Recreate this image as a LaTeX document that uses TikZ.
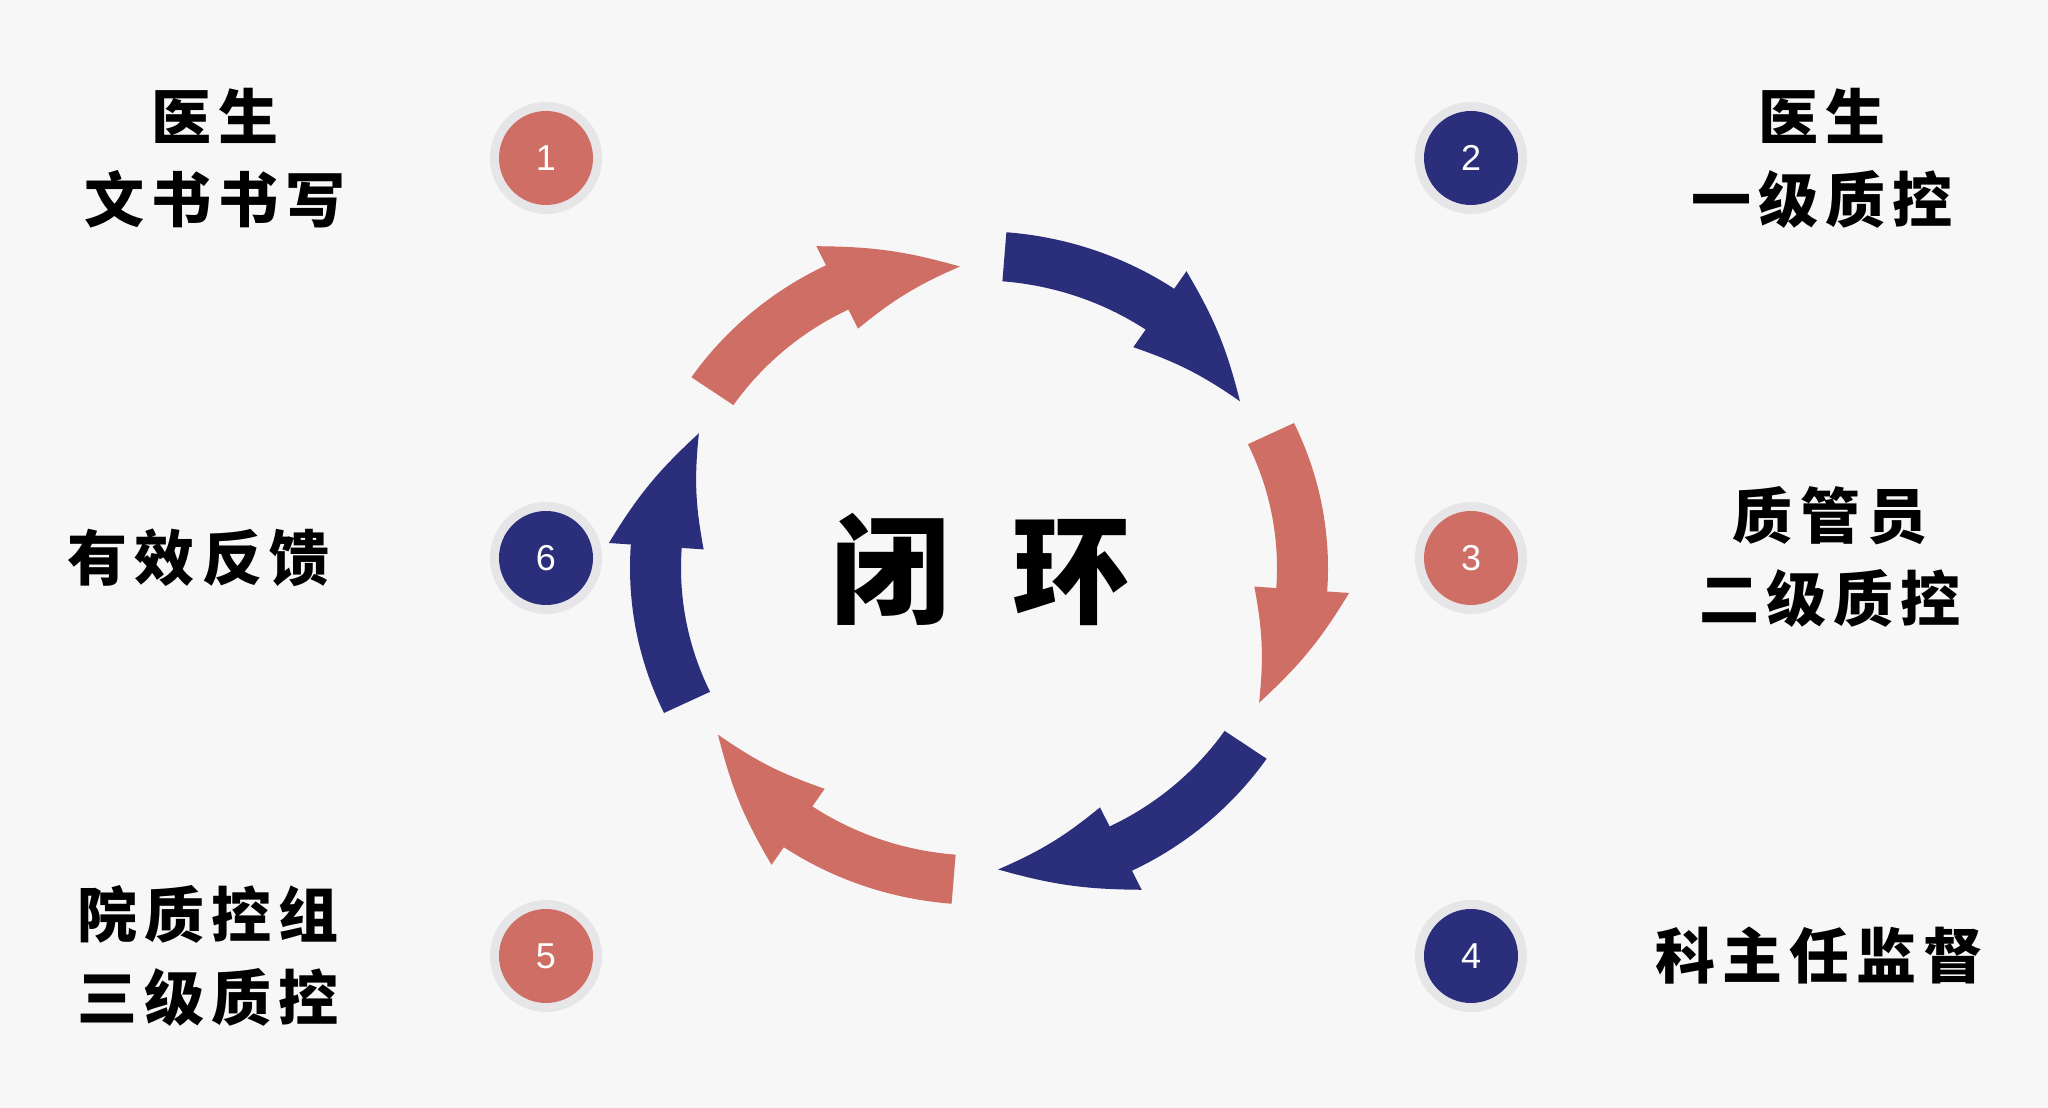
\documentclass[tikz,border=0pt]{standalone}
\usepackage{fontspec}
\setmainfont{Liberation Sans}
\newfontfamily\cjklabel{Noto Sans CJK SC}[LetterSpace=12]
\newfontfamily\cjktitle{Noto Sans CJK SC}
\usepackage{xcolor}
\usepackage{tikz}
\definecolor{PageGray}{HTML}{F7F7F7}
\definecolor{HaloGray}{HTML}{E6E6E9}
\definecolor{LoopRed}{HTML}{CF6E65}
\definecolor{LoopBlue}{HTML}{2B2E7B}
\tikzset{
  badge/.style={
    circle,
    inner sep=0pt,
    minimum size=94pt,
    fill=#1,
    text=white,
    font=\fontsize{36}{36}\selectfont,
    preaction={draw=HaloGray, line width=18pt}
  },
  steplabel/.style={
    align=center,
    inner sep=0pt,
    font=\cjklabel\bfseries\fontsize{60}{83}\selectfont
  },
  looptitle/.style={
    inner sep=0pt,
    font=\cjktitle\bfseries\fontsize{118}{118}\selectfont
  }
}

\begin{document}
\begin{tikzpicture}[x=1pt, y=1pt]

  \fill[PageGray] (0,0) rectangle (2048,1108);

  \coordinate (ring) at (979,540);

  % six curved arrows, clockwise
  \begin{scope}[shift={(ring)}, yscale=0.965]
    \foreach \tail/\col in {145.5/LoopRed, 85.5/LoopBlue, 25.5/LoopRed,
                            -34.5/LoopBlue, -94.5/LoopRed, -154.5/LoopBlue} {
      \pgfmathsetmacro\barb{\tail-29.5}
      \pgfmathsetmacro\tip{\tail-52}
      \fill[\col]
      (\tail:349) arc[start angle=\tail, end angle=\barb, radius=349pt]
      -- (\barb:371) to[bend left=8] (\tip:313)
      to[bend right=8] (\barb:276)
      -- (\barb:298) arc[start angle=\barb, end angle=\tail, radius=298pt]
      -- cycle;
    }
  \end{scope}

  \node[looptitle] (title) at (981,539) {闭\hspace{63pt}环};

  % numbered badges
  \node[badge=LoopRed] (n1) at (546,950) {1};
  \node[badge=LoopBlue] (n2) at (1471,950) {2};
  \node[badge=LoopRed] (n3) at (1471,550) {3};
  \node[badge=LoopBlue] (n4) at (1471,152) {4};
  \node[badge=LoopRed] (n5) at (546,152) {5};
  \node[badge=LoopBlue] (n6) at (546,550) {6};

  % step texts
  \node[
    steplabel
  ] (t1) at (215,950) {
    医生\\
    文书书写
  };

  \node[
    steplabel
  ] (t2) at (1822,950) {
    医生\\
    一级质控
  };

  \node[
    steplabel
  ] (t3) at (1830,551) {
    质管员\\
    二级质控
  };

  \node[
    steplabel
  ] (t4) at (1830,152) {
    科主任监督
  };

  \node[
    steplabel
  ] (t5) at (208,152) {
    院质控组\\
    三级质控
  };

  \node[
    steplabel
  ] (t6) at (209,550) {
    有效反馈
  };

\end{tikzpicture}
\end{document}
